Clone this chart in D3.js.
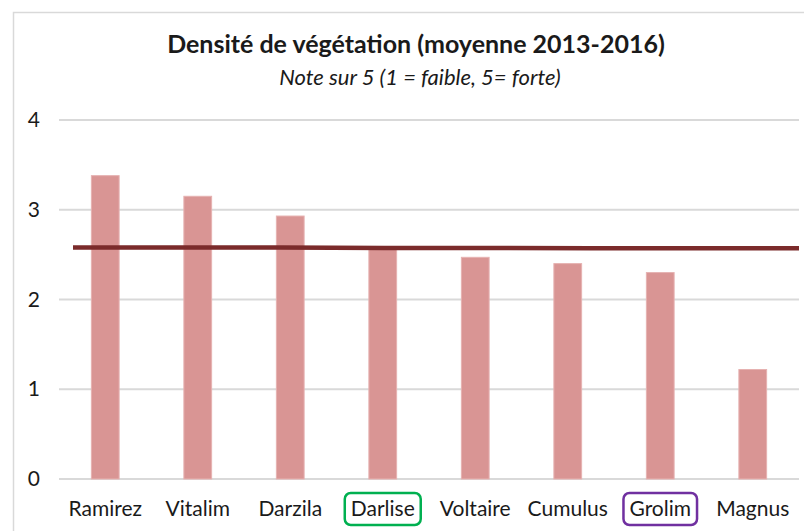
<html>
<head>
<script src="https://cdn.jsdelivr.net/npm/d3@7"></script>
<style>
  body { margin: 0; background: #fff; }
  text { font-family: Lato, "Open Sans", sans-serif; fill: #1a1a1a; }
</style>
</head>
<body>
<div id="chart"></div>
<script>
var categories = ["Ramirez", "Vitalim", "Darzila", "Darlise", "Voltaire", "Cumulus", "Grolim", "Magnus"]
var density = [3.38, 3.15, 2.93, 2.58, 2.47, 2.40, 2.30, 1.22]
var average = [2.58, 2.58, 2.58, 2.575, 2.575, 2.57, 2.57, 2.57]
var yTicks = [0, 1, 2, 3, 4]
var highlighted = { "Darlise": "#00b050", "Grolim": "#7030a0" }

var W = 804, H = 531
var svg = d3.select('#chart').append('svg')
  .attr('width', W)
  .attr('height', H)

// chart frame
svg.append('rect')
  .attr('x', 13.5).attr('y', 12.5)
  .attr('width', W).attr('height', H)
  .attr('fill', 'none')
  .attr('stroke', '#d9d9d9')
  .attr('stroke-width', 1.5)

var pLeft = 59, pRight = 799, pTop = 120, pBottom = 479

var x = d3.scaleBand().domain(categories).range([pLeft, pRight]).paddingInner(0.7).paddingOuter(0.35)
var y = d3.scaleLinear().domain([0, 4]).range([pBottom, pTop])

// gridlines
svg.append('g').selectAll('line')
  .data(yTicks)
  .enter().append('line')
  .attr('x1', pLeft).attr('x2', pRight)
  .attr('y1', function(d){ return y(d) }).attr('y2', function(d){ return y(d) })
  .attr('stroke', '#d9d9d9')
  .attr('stroke-width', 2)

var yAxis = svg.append('g')
  .attr('transform', 'translate(' + pLeft + ',0)')
  .call(d3.axisLeft(y).tickValues(yTicks).tickSize(0).tickPadding(19).tickFormat(d3.format('d')))
yAxis.select('.domain').remove()
yAxis.selectAll('text').style('font-size', '21px').attr('fill', '#1a1a1a')

// bars
svg.append('g').selectAll('rect')
  .data(density)
  .enter().append('rect')
  .attr('x', function(d, i){ return x(categories[i]) })
  .attr('y', function(d){ return y(d) })
  .attr('width', x.bandwidth())
  .attr('height', function(d){ return y(0) - y(d) })
  .attr('fill', '#d99594')
  .attr('stroke', '#e6b2b1')
  .attr('stroke-width', 1)

// average line
var xl = d3.scalePoint().domain(categories).range([73, pRight])
svg.append('path')
  .datum(average)
  .attr('d', d3.line().x(function(d, i){ return xl(categories[i]) }).y(function(d){ return y(d) }))
  .attr('fill', 'none')
  .attr('stroke', '#7b2b2b')
  .attr('stroke-width', 4.5)

// category labels
var xAxis = svg.append('g')
  .attr('transform', 'translate(0,' + pBottom + ')')
  .call(d3.axisBottom(x).tickSize(0).tickPadding(22))
xAxis.select('.domain').remove()
xAxis.selectAll('text').style('font-size', '21px').attr('fill', '#1a1a1a')

// boxes round highlighted labels
xAxis.selectAll('.tick').each(function(d){
  if (!highlighted[d]) return
  var t = d3.select(this).select('text').node().getBBox()
  d3.select(this).insert('rect', 'text')
    .attr('x', t.x - 6).attr('y', 14)
    .attr('width', t.width + 12).attr('height', 32)
    .attr('rx', 6)
    .attr('fill', 'none')
    .attr('stroke', highlighted[d])
    .attr('stroke-width', 2.5)
})

// titles
svg.append('text')
  .attr('x', 416).attr('y', 53)
  .attr('text-anchor', 'middle')
  .style('font-size', '25px').style('font-weight', 'bold')
  .text('Densité de végétation (moyenne 2013-2016)')
svg.append('text')
  .attr('x', 420).attr('y', 85)
  .attr('text-anchor', 'middle')
  .style('font-size', '22px').style('font-style', 'italic')
  .text('Note sur 5 (1 = faible, 5= forte)')
</script>
</body>
</html>
